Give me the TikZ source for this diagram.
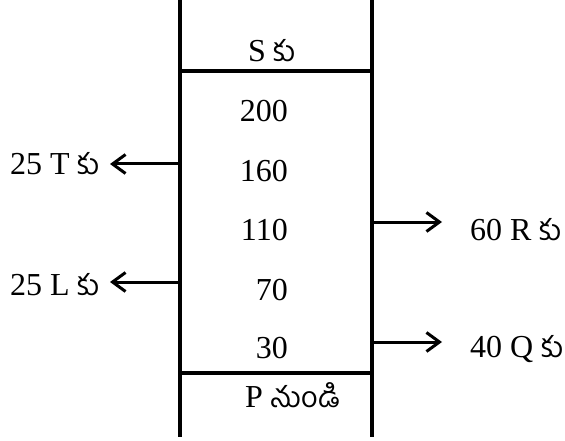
\documentclass[tikz,border=0pt]{standalone}
\usepackage{fontspec}
\setmainfont{Liberation Serif}
\newfontfamily\telugu[Script=Telugu,Scale=0.9]{Hind Guntur}
\usetikzlibrary{arrows.meta}

\begin{document}
\begin{tikzpicture}[x=1pt, y=-1pt,
    txt/.style={inner sep=0pt, font=\fontsize{32}{38}\selectfont},
    num/.style={txt, anchor=base east},
    wall/.style={line width=3.5pt},
    bar/.style={line width=4pt},
    arr/.style={-{Straight Barb[length=13pt,width=19pt]}, line width=3pt}
]
\useasboundingbox (0,0) rectangle (565,441);
% column
\coordinate (lt) at (180,0);
\coordinate (lb) at (180,437);
\coordinate (rt) at (372,0);
\coordinate (rb) at (372,437);
\coordinate (tl) at (180,71);
\coordinate (tr) at (372,71);
\coordinate (bl) at (180,373);
\coordinate (br) at (372,373);
\draw[wall] (lt) -- (lb);
\draw[wall] (rt) -- (rb);
\draw[bar] (tl) -- (tr);
\draw[bar] (bl) -- (br);

\node[txt, anchor=base] (top) at (272,62) {S {\telugu కు}};
\node[txt, anchor=base west] (bot) at (245,407) {P {\telugu నుండి}};
\node[num] (n200) at (288,122) {200};
\node[num] (n160) at (288,182) {160};
\node[num] (n110) at (288,240) {110};
\node[num] (n70) at (288,300) {70};
\node[num] (n30) at (288,358) {30};

% outflows
\coordinate (tout) at (180,164);
\coordinate (ttip) at (110,164);
\coordinate (lout) at (180,282);
\coordinate (ltip) at (110,282);
\coordinate (rout) at (372,222);
\coordinate (rtip) at (442,222);
\coordinate (qout) at (372,342);
\coordinate (qtip) at (442,342);

\node[txt, anchor=base east] (tlab) at (100,175) {25 T {\telugu కు}};
\node[txt, anchor=base east] (llab) at (100,295) {25 L {\telugu కు}};
\node[txt, anchor=base west] (rlab) at (470,240) {60 R {\telugu కు}};
\node[txt, anchor=base west] (qlab) at (470,357) {40 Q {\telugu కు}};

\draw[arr] (tout) -- (ttip);
\draw[arr] (lout) -- (ltip);
\draw[arr] (rout) -- (rtip);
\draw[arr] (qout) -- (qtip);
\end{tikzpicture}
\end{document}
